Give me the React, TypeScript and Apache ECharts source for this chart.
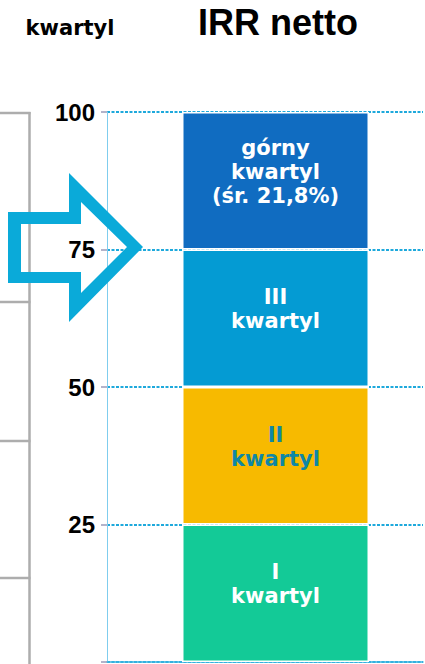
import React, { useEffect, useRef } from "react";
import * as echarts from "echarts";

const categories = ["IRR netto"];
const quartileNames = ["I kwartyl", "II kwartyl", "III kwartyl", "górny kwartyl"];
const quartileValues = [25, 25, 25, 25];
const quartileLabels = ["I\nkwartyl", "II\nkwartyl", "III\nkwartyl", "górny\nkwartyl\n(śr. 21,8%)"];
const quartileColors = ["#13CA97", "#F7BA00", "#049BD3", "#106CC1"];
const labelColors = ["#FFFFFF", "#0F87A5", "#FFFFFF", "#FFFFFF"];
const yTickLabels = [0, 25, 50, 75, 100];

const arrowPath =
  "M8 212 L69 212 L69 173 L143 247 L69 322 L69 283 L8 283 Z M21 224 L21 272 L81 272 L81 293 L127 247 L81 202 L81 224 Z";

let registered = false;

export default function App() {
  const ref = useRef<HTMLDivElement>(null);
  useEffect(() => {
    if (!ref.current) return;
    if (!registered) {
      echarts.graphic.registerShape("arrowOutline", echarts.graphic.extendPath(arrowPath, {}) as any);
      registered = true;
    }
    const chart = echarts.init(ref.current, null, { renderer: "svg" });
    const yMin = yTickLabels[0];
    const yMax = yTickLabels[yTickLabels.length - 1];
    const step = yTickLabels[1] - yTickLabels[0];
    const grayLine = (x1: number, y1: number, x2: number, y2: number) => ({
      type: "line",
      shape: { x1, y1, x2, y2 },
      style: { stroke: "#ADADAD", lineWidth: 2.5 },
      z: 1,
    });
    chart.setOption({
      animation: false,
      backgroundColor: "#FFFFFF",
      grid: [
        { left: 107, right: 2, top: 112, bottom: 2 },
        { left: 128, right: 2, top: 112, bottom: 2 },
      ],
      xAxis: [
        {
          gridIndex: 0,
          type: "category",
          data: categories,
          axisLine: { show: true, lineStyle: { color: "#3BB4E0", width: 1.5 } },
          axisTick: { show: false },
          axisLabel: { show: false },
          splitLine: { show: false },
        },
        {
          gridIndex: 1,
          type: "category",
          data: categories,
          axisLine: { show: false },
          axisTick: { show: false },
          axisLabel: { show: false },
          splitLine: { show: false },
        },
      ],
      yAxis: [
        {
          gridIndex: 0,
          type: "value",
          min: yMin,
          max: yMax,
          interval: step,
          axisLine: { show: true, lineStyle: { color: "#7FCDEE", width: 1 } },
          axisTick: { show: true, length: 6, lineStyle: { color: "#9A9AB8", width: 1.5 } },
          axisLabel: {
            show: true,
            margin: 12,
            color: "#000000",
            fontFamily: "Liberation Sans",
            fontWeight: "bold",
            fontSize: 24,
            padding: [0, 0, 8, 0],
            formatter: (v: number) => (v === 0 ? "" : String(v)),
          },
          splitLine: {
            show: true,
            lineStyle: { color: "#1EA9DC", width: 2, type: [3, 1.5] },
          },
        },
        {
          gridIndex: 1,
          type: "value",
          min: yMin,
          max: yMax,
          interval: step,
          show: false,
          splitLine: { show: false },
        },
      ],
      series: quartileNames.map((name, i) => ({
        name,
        type: "bar",
        xAxisIndex: 1,
        yAxisIndex: 1,
        stack: "q",
        barWidth: 187,
        data: [quartileValues[i]],
        itemStyle: { color: quartileColors[i], borderColor: "#FFFFFF", borderWidth: 1.5 },
        label: {
          show: true,
          position: "inside",
          offset: [0, -9],
          formatter: () => quartileLabels[i],
          color: labelColors[i],
          fontFamily: "DejaVu Sans",
          fontWeight: "bold",
          fontSize: 21,
          lineHeight: 24,
          align: "center",
        },
      })),
      graphic: [
        grayLine(29.5, 112, 29.5, 664),
        grayLine(0, 113, 30.5, 113),
        grayLine(0, 302, 30.5, 302),
        grayLine(0, 441, 30.5, 441),
        grayLine(0, 578, 30.5, 578),
        {
          type: "arrowOutline",
          x: 0,
          y: 0,
          scaleX: 1,
          scaleY: 1,
          style: { fill: "#0AAAD9" },
          z: 10,
        },
        {
          type: "text",
          x: 278,
          y: 22,
          style: {
            text: "IRR netto",
            fill: "#000000",
            font: "bold 36px 'Liberation Sans'",
            align: "center",
            verticalAlign: "middle",
          },
          z: 10,
        },
        {
          type: "text",
          x: 70,
          y: 28,
          style: {
            text: "kwartyl",
            fill: "#000000",
            font: "bold 21px 'DejaVu Sans'",
            align: "center",
            verticalAlign: "middle",
          },
          z: 10,
        },
      ],
    });
    return () => chart.dispose();
  }, []);
  return (
    <div
      ref={ref}
      style={{ position: "fixed", left: 0, top: 0, width: 425, height: 664 }}
    />
  );
}
